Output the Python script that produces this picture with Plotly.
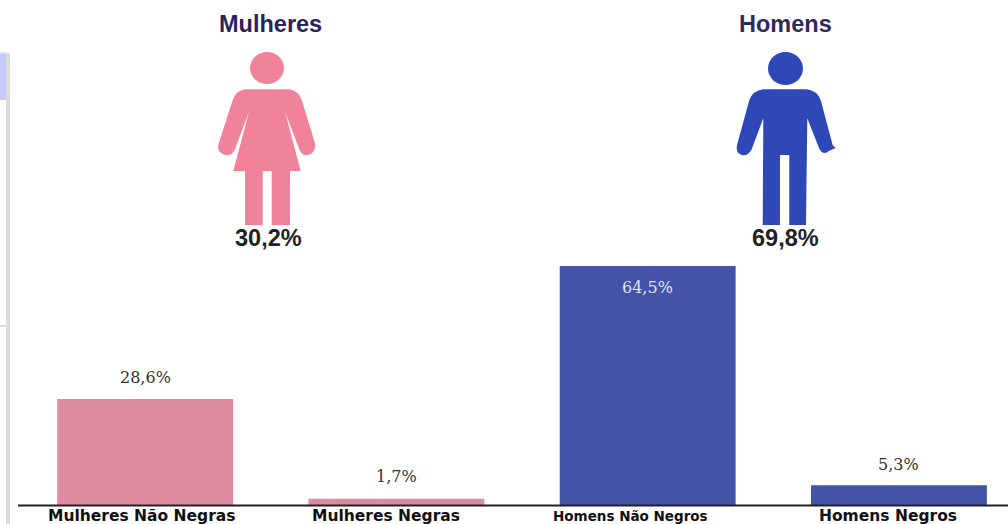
import plotly.graph_objects as go

categories = ["Mulheres Não Negras", "Mulheres Negras", "Homens Não Negros", "Homens Negros"]
values = [28.6, 1.7, 64.5, 5.3]
value_labels = ["28,6%", "1,7%", "64,5%", "5,3%"]
bar_colors = ["#de8a9f", "#de8a9f", "#4354a8", "#4354a8"]
label_shifts = [22, 22, -21, 21]
label_colors = ["#333333", "#333333", "#dfe3f2", "#333333"]
tick_shifts = [-3.5, -10, -17, -11]
tick_sizes = [15.5, 15.5, 13.5, 15.5]

W, H = 1008, 524

def path(points, ox):
    """Zoomed-crop coordinates (3x) to page pixels."""
    out = []
    for cmd, *c in points:
        pts = " ".join(f"{ox + c[i] / 3:.1f},{c[i + 1] / 3:.1f}" for i in range(0, len(c), 2))
        out.append(f"{cmd}{pts}")
    return " ".join(out) + " Z"

woman = [
    ("M", 135, 268), ("L", 268, 268), ("Q", 295, 272, 305, 300), ("L", 345, 430),
    ("Q", 350, 458, 322, 466), ("Q", 305, 466, 298, 448), ("L", 255, 335), ("L", 302, 513),
    ("L", 270, 513), ("L", 270, 675), ("L", 215, 675), ("L", 215, 513), ("L", 188, 513),
    ("L", 188, 675), ("L", 135, 675), ("L", 135, 513), ("L", 100, 513), ("L", 147, 335),
    ("L", 105, 448), ("Q", 95, 468, 78, 466), ("Q", 48, 458, 56, 430), ("L", 98, 300),
    ("Q", 108, 272, 135, 268),
]
man = [
    ("M", 130, 268), ("L", 260, 268), ("Q", 292, 272, 302, 300), ("L", 338, 436),
    ("L", 347, 444), ("L", 328, 452), ("Q", 310, 468, 298, 446), ("L", 262, 355),
    ("L", 258, 675), ("L", 208, 675), ("L", 208, 465), ("L", 180, 465), ("L", 180, 675),
    ("L", 128, 675), ("L", 130, 355), ("L", 95, 448), ("Q", 85, 468, 68, 466),
    ("Q", 44, 458, 52, 432), ("L", 88, 300), ("Q", 98, 272, 130, 268),
]

fig = go.Figure()
fig.add_trace(go.Bar(
    x=categories, y=values, marker=dict(color=bar_colors, line=dict(width=0)), hoverinfo="skip",
))
# Invisible pixel-scale overlay used to place the pictograms and headings.
fig.add_trace(go.Scatter(x=[0], y=[0], xaxis="x2", yaxis="y2", mode="markers",
                         marker=dict(opacity=0), showlegend=False, hoverinfo="skip"))

def px_shape(**kw):
    return dict(xref="x2", yref="y2", layer="above", **kw)

shapes = [
    px_shape(type="rect", x0=0, x1=7, y0=53, y1=100, fillcolor="#c6c9f8", line_width=0),
    px_shape(type="rect", x0=6, x1=10, y0=53, y1=524, fillcolor="#dcdcdc", line_width=0),
    px_shape(type="rect", x0=0, x1=7, y0=325, y1=327, fillcolor="#dcdcdc", line_width=0),
    px_shape(type="rect", x0=0, x1=7, y0=52, y1=54, fillcolor="#e4e4ee", line_width=0),
    px_shape(type="circle", x0=250, x1=284, y0=52, y1=84, fillcolor="#f0829a", line_width=0),
    px_shape(type="path", path=path(woman, 200), fillcolor="#f0829a", line_width=0),
    px_shape(type="circle", x0=768, x1=803, y0=52, y1=85, fillcolor="#2f48b8", line_width=0),
    px_shape(type="path", path=path(man, 720), fillcolor="#2f48b8", line_width=0),
    px_shape(type="line", x0=18, x1=W, y0=505.5, y1=505.5, line=dict(color="#222222", width=2)),
]

def note(x, y, text, size, color):
    return dict(xref="x2", yref="y2", x=x, y=y, text=text, showarrow=False, xanchor="center",
                yanchor="middle", font=dict(family="Liberation Sans, Arial", size=size, color=color))

annotations = [
    note(270.5, 24, "<b>Mulheres</b>", 23.5, "#2a2160"),
    note(785.5, 24, "<b>Homens</b>", 23.5, "#2f2a5c"),
    note(268, 238, "<b>30,2%</b>", 23.5, "#222222"),
    note(785.5, 238, "<b>69,8%</b>", 23.5, "#222222"),
]
for cat, val, lab, shift, col in zip(categories, values, value_labels, label_shifts, label_colors):
    annotations.append(dict(xref="x", yref="y", x=cat, y=val, yshift=shift, text=lab, showarrow=False,
                            xanchor="center", yanchor="middle",
                            font=dict(family="DejaVu Serif", size=16, color=col)))
for cat, dx, size in zip(categories, tick_shifts, tick_sizes):
    annotations.append(dict(xref="x", yref="y", x=cat, y=0, xshift=dx, yshift=-11, text=f"<b>{cat}</b>",
                            showarrow=False, xanchor="center", yanchor="middle",
                            font=dict(family="DejaVu Sans", size=size, color="#111111")))

fig.update_layout(
    width=W, height=H, margin=dict(l=0, r=0, t=0, b=0),
    paper_bgcolor="white", plot_bgcolor="rgba(0,0,0,0)", showlegend=False, bargap=0.3,
    shapes=shapes, annotations=annotations,
    xaxis=dict(domain=[19.5 / W, 1], range=[-0.5, 3.434], showgrid=False, zeroline=False,
               showline=False, ticks="", showticklabels=False, anchor="y"),
    yaxis=dict(domain=[19 / H, 1], range=[0, 136.3], visible=False, showgrid=False, zeroline=False, anchor="x"),
    xaxis2=dict(domain=[0, 1], range=[0, W], anchor="y2", visible=False, fixedrange=True),
    yaxis2=dict(domain=[0, 1], range=[H, 0], anchor="x2", visible=False, fixedrange=True),
)

fig.write_html("out.html", config={"displayModeBar": False},
               post_script="document.body.style.margin='0';")
